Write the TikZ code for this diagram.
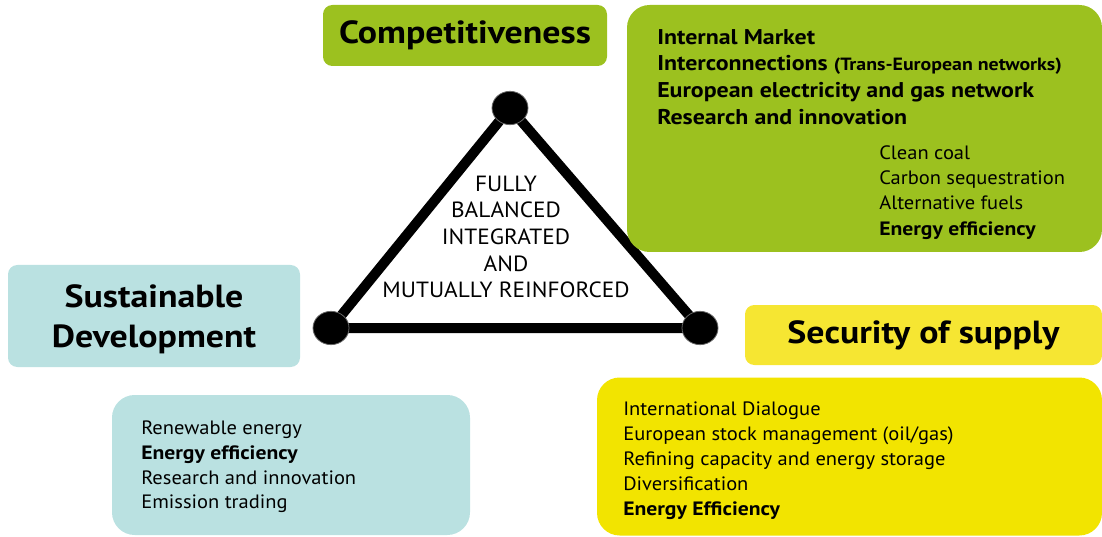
\documentclass[tikz,border=0pt]{standalone}
\usepackage{fontspec}
\setmainfont{PT Sans}[FakeStretch=1.06,BoldFeatures={FakeStretch=1.12}]
\usepackage{tikz}
\usetikzlibrary{shapes.geometric,backgrounds}

\definecolor{compgreen}{RGB}{156,193,31}
\definecolor{sustteal}{RGB}{186,225,225}
\definecolor{secyellow}{RGB}{246,230,50}
\definecolor{listyellow}{RGB}{242,228,0}

\begin{document}
\begin{tikzpicture}[x=0.75pt,y=0.75pt,
  headbox/.style={rounded corners=7pt,inner sep=0pt,font=\bfseries\fontsize{24}{30}\selectfont,align=center},
  listbox/.style={rounded corners=17pt,inner sep=0pt},
  listtext/.style={inner sep=0pt,anchor=north west,align=left},
  vertex/.style={ellipse,fill=black,draw=black!60,line width=0.6pt,minimum width=27pt,minimum height=25pt,inner sep=0pt}]
  % canvas of 1102 x 536 units, origin at the lower left
  \useasboundingbox (0,0) rectangle (1102,536);

  % the three pillars
  \node[headbox,fill=compgreen,minimum width=213pt,minimum height=45.75pt] (comp) at (465,500.5) {Competitiveness};
  \node[headbox,fill=sustteal,minimum width=219pt,minimum height=76.5pt,text depth=0pt] (sust) at (154,220) {Sustainable\\Development};
  \node[headbox,fill=secyellow,minimum width=267.75pt,minimum height=45pt] (sec) at (923.5,201) {Security of supply};

  % boxes with the measures
  \node[listbox,fill=compgreen,minimum width=356.25pt,minimum height=185.25pt] (complist) at (864.5,407.5) {};
  \node[listbox,fill=sustteal,minimum width=268.5pt,minimum height=105pt] (sustlist) at (291,71) {};
  \node[listbox,fill=listyellow,minimum width=378.75pt,minimum height=118.5pt] (seclist) at (849.5,79.5) {};

  \node[listtext,font=\bfseries\fontsize{16}{20}\selectfont] (compmain) at (657,507) {Internal Market\\
    Interconnections {\fontsize{13.3}{20}\selectfont(Trans-European networks)}\\
    European electricity and gas network\\
    Research and innovation};
  \node[listtext,font=\fontsize{14.5}{19}\selectfont] (compsub) at (879,391) {Clean coal\\
    Carbon sequestration\\
    Alternative fuels\\
    \textbf{Energy efficiency}};
  \node[listtext,font=\fontsize{14.5}{18.5}\selectfont] (sustitems) at (141,115) {Renewable energy\\
    \textbf{Energy efficiency}\\
    Research and innovation\\
    Emission trading};
  \node[listtext,font=\fontsize{14.5}{18.75}\selectfont] (secitems) at (623,134) {International Dialogue\\
    European stock management (oil/gas)\\
    Refining capacity and energy storage\\
    Diversification\\
    \textbf{Energy Efficiency}};

  % the triangle joining them
  \node[vertex] (top) at (510,428) {};
  \node[vertex] (left) at (331,208) {};
  \node[vertex] (right) at (700,208) {};
  \begin{pgfonlayer}{background}
    \draw[line width=7.5pt] (top.center) -- (left.center) -- (right.center) -- cycle;
  \end{pgfonlayer}

  \node[align=center,inner sep=0pt,font=\fontsize{16.5}{20}\selectfont] (core) at (506,299) {FULLY\\BALANCED\\INTEGRATED\\AND\\MUTUALLY REINFORCED};
\end{tikzpicture}
\end{document}
